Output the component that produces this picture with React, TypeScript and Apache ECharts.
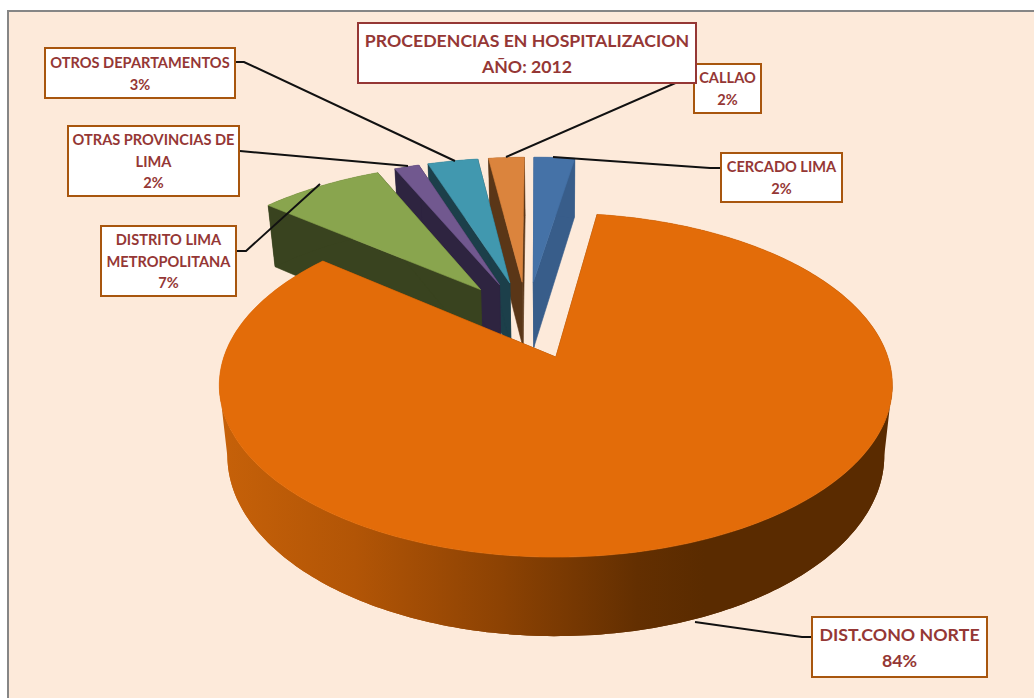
import React, { useEffect, useRef } from "react";
import * as echarts from "echarts";

const CATEGORIES = [
  "CERCADO LIMA",
  "DIST.CONO NORTE",
  "DISTRITO LIMA\nMETROPOLITANA",
  "OTRAS PROVINCIAS DE\nLIMA",
  "OTROS DEPARTAMENTOS",
  "CALLAO",
];
const VALUES = [2.44, 83.6, 7.35, 1.47, 3.0, 2.14];
const PERCENT_LABELS = [2, 84, 7, 2, 3, 2];
const TITLE_LINES = ["PROCEDENCIAS EN HOSPITALIZACION", "AÑO: 2012"];
const TOP_COLORS = ["#4572A7", "#E36C09", "#89A54E", "#71588F", "#4198AF", "#DB843D"];
const WALL_COLORS = ["#385D8A", "#8C4203", "#39431F", "#2E2440", "#1C3F4A", "#5A3617"];

// projection of the tilted, exploded disc
const CX = 556.5, CY = 357;
const A = 332, B = 167.4, PERSP = 0.163;
const EXPLODE = 0.25;
const TU = -0.0925, TV = -0.2325;
const DEPTH = 69, DEPTH_SY = 1.05, DEPTH_SX = 0.976;
const START_ANGLE = -0.5;

const TOTAL = VALUES.reduce((a, b) => a + b, 0);
const rad = (d: number) => (d * Math.PI) / 180;
let acc = START_ANGLE;
const SLICES = VALUES.map((v) => {
  const start = acc;
  acc += (v / TOTAL) * 360;
  const mid = (start + acc) / 2;
  return {
    start,
    end: acc,
    u: TU + EXPLODE * Math.sin(rad(mid)),
    v: TV - EXPLODE * Math.cos(rad(mid)),
  };
});
const RANKS = SLICES.map((s) => SLICES.filter((o) => o.v < s.v).length);

function top(u: number, v: number): [number, number] {
  const d = 1 - PERSP * v;
  return [(A * u) / d, (B * v) / d];
}
function project(u: number, v: number, low: boolean): number[] {
  const [x, y] = top(u, v);
  return low ? [CX + x * DEPTH_SX, CY + y * DEPTH_SY + DEPTH] : [CX + x, CY + y];
}

function renderItem(params: any, api: any) {
  const i = params.dataIndex;
  const s = SLICES[i];
  api.value(0);
  const arc = (low: boolean) => {
    const pts: number[][] = [];
    const n = Math.max(2, Math.ceil(s.end - s.start));
    for (let k = 0; k <= n; k++) {
      const a = rad(s.start + ((s.end - s.start) * k) / n);
      pts.push(project(s.u + Math.sin(a), s.v - Math.cos(a), low));
    }
    return pts;
  };
  const hi = arc(false);
  const lo = arc(true);
  const apexHi = project(s.u, s.v, false);
  const apexLo = project(s.u, s.v, true);
  const wall = WALL_COLORS[i];
  const big = i === 1;
  const outerFill = big
    ? new echarts.graphic.LinearGradient(
        220, 0, 893, 0,
        [
          { offset: 0, color: "#C66109" },
          { offset: 0.2, color: "#B25506" },
          { offset: 0.42, color: "#8C4203" },
          { offset: 0.62, color: "#632F01" },
          { offset: 0.72, color: "#5A2B00" },
          { offset: 1, color: "#5A2B00" },
        ],
        true
      )
    : wall;
  const z = RANKS[i] * 10;
  const poly = (points: number[][], fill: any, z2: number, stroke = true) => ({
    type: "polygon",
    z2,
    shape: { points },
    style: stroke ? { fill, stroke: fill, lineWidth: 0.6 } : { fill },
    silent: true,
  });
  // front wall outline: from the right-most to the left-most point of the rim
  let kR = 0, kL = 0;
  hi.forEach((p, k) => {
    if (p[0] > hi[kR][0]) kR = k;
    if (p[0] < hi[kL][0]) kL = k;
  });
  const front =
    big && kR < kL
      ? [poly([...hi.slice(kR, kL + 1), ...lo.slice(kR, kL + 1).reverse()], outerFill, z + 2, false)]
      : [];
  return {
    type: "group",
    children: [
      poly([apexHi, hi[0], lo[0], apexLo], wall, z),
      poly([apexHi, hi[hi.length - 1], lo[lo.length - 1], apexLo], wall, z + 1),
      poly([...hi, ...lo.slice().reverse()], outerFill, z + 2, false),
      ...front,
      poly([apexHi, ...hi], TOP_COLORS[i], z + 3),
    ],
  };
}

const FONT = "Lato, Carlito, sans-serif";
const TEXT = "#953735";
const BOX = "#A8560E";

function labelBox(x: number, y: number, w: number, h: number, text: string, size: number, lh: number, z = 6, stroke = BOX) {
  return [
    { type: "rect", z, shape: { x, y, width: w, height: h }, style: { fill: "#FFFFFF", stroke, lineWidth: 2 } },
    {
      type: "text",
      z: z + 1,
      style: {
        text,
        x: x + w / 2,
        y: y + h / 2,
        align: "center",
        verticalAlign: "middle",
        fontFamily: FONT,
        fontWeight: "bold",
        fontSize: size,
        lineHeight: lh,
        fill: TEXT,
      },
    },
  ];
}
const pct = (i: number) => `${CATEGORIES[i]}\n${PERCENT_LABELS[i]}%`;
const leader = (points: number[][]) => ({
  type: "polyline",
  z: 5,
  shape: { points },
  style: { stroke: "#111111", lineWidth: 2, fill: "none" },
});

export default function App() {
  const ref = useRef<HTMLDivElement>(null);
  useEffect(() => {
    const chart = echarts.init(ref.current!, undefined, { renderer: "svg" });
    chart.setOption({
      animation: false,
      backgroundColor: "#FFFFFF",
      series: [
        {
          type: "custom",
          coordinateSystem: "none",
          renderItem,
          data: VALUES.map((v, i) => ({ name: CATEGORIES[i], value: [v] })),
          z: 2,
        },
      ],
      graphic: {
        elements: [
          { type: "rect", z: -5, shape: { x: 8, y: 11, width: 1040, height: 700 }, style: { fill: "#FDEADA", stroke: "#868686", lineWidth: 2 } },
          leader([[235, 62], [244, 62], [455, 161]]),
          leader([[240, 151], [408, 166]]),
          leader([[236, 251], [246, 251], [320, 184]]),
          leader([[506, 157], [680, 81], [694, 81]]),
          leader([[553, 157], [710, 168], [721, 168]]),
          leader([[695, 622], [802, 637], [812, 637]]),
          ...labelBox(45, 48, 190, 50, pct(4), 14.6, 22),
          ...labelBox(68, 126, 171, 70, pct(3), 14.6, 21.5),
          ...labelBox(101, 226, 135, 70, pct(2), 14.6, 21.5),
          ...labelBox(694, 64, 67, 49, pct(5), 14.6, 22),
          ...labelBox(721, 153, 121, 49, pct(0), 14.6, 22),
          ...labelBox(812, 617, 175, 60, pct(1), 17.8, 26),
          ...labelBox(358, 23, 338, 60, TITLE_LINES.join("\n"), 17.7, 26, 8, "#953735"),
        ],
      },
    });
    return () => chart.dispose();
  }, []);
  return <div ref={ref} style={{ position: "absolute", left: 0, top: 0, width: 1034, height: 698 }} />;
}
